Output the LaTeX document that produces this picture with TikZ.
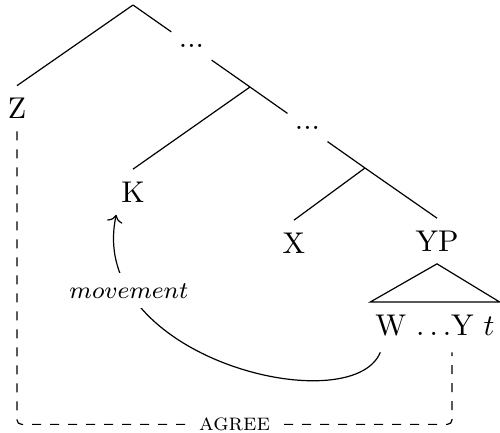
\documentclass[tikz,border=0pt]{standalone}
\usepackage{amsmath}
\usepackage{tikz}
\usetikzlibrary{arrows.meta, positioning, calc}

\begin{document}
\begin{tikzpicture}[
        x=0.3333pt, y=-0.3333pt,
        cat/.style={inner xsep=1.5pt, inner ysep=4pt},
        dots/.style={inner xsep=2.4pt, minimum height=9pt},
        lbl/.style={fill=white, inner xsep=2pt, font=\footnotesize},
        agree/.style={dashed, rounded corners=1.5pt},
        arrow/.style={-{To}},
    ]
        \useasboundingbox (0,0) rectangle (500,433);
        \coordinate (top) at (133,5);
        \coordinate (mid) at (250,87);
        \coordinate (low) at (365,168);
        \node[dots] (dotsa) at ($(top)!0.5!(mid)$) {...};
        \node[dots] (dotsb) at ($(mid)!0.5!(low)$) {...};
        \node[cat] (z) at (17,108.5) {Z};
        \node[cat] (k) at (133,192) {K};
        \node[cat] (x) at (294,243) {X};
        \node[cat] (yp) at (437,241) {YP};
        \node[cat, anchor=north] (wyt) at (435,302) {W $\ldots$Y $t$};
        \coordinate (wfoot) at ($(wyt.south west)+(10,4)$);
        \coordinate (yfoot) at ($(wyt.south)+(17,4)$);

        % tree
        \draw (top) -- (z.north);
        \draw (top) -- (dotsa) -- (mid);
        \draw (mid) -- (k.north);
        \draw (mid) -- (dotsb) -- (low);
        \draw (low) -- (x.north);
        \draw (low) -- (yp.north);
        \draw (yp.south) -- (wyt.north west) -- (wyt.north east) -- cycle;

        % movement and agree
        \draw[arrow] (wfoot) .. controls +(-29,70) and +(-31,143) .. node[lbl, pos=0.8] {$movement$} (k.south west);
        \draw[agree] (z.south) |- node[lbl, pos=0.75] {\textsc{agree}} ($(yfoot)+(0,72)$) -- (yfoot);
    \end{tikzpicture}
\end{document}
